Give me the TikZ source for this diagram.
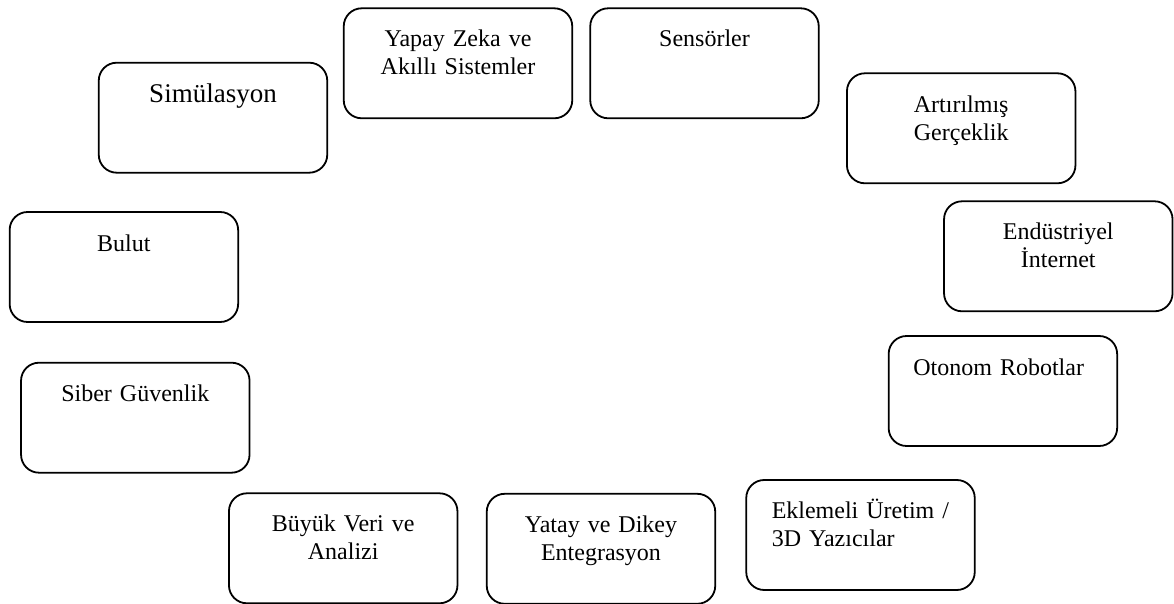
\documentclass[tikz,border=0pt]{standalone}
\usepackage{fontspec}
\setmainfont{Liberation Serif}
\usepackage{tikz}
\usetikzlibrary{positioning}

\begin{document}
\begin{tikzpicture}[x=0.5pt, y=-0.5pt,
    kutu/.style={draw, line width=0.9pt, rounded corners=9pt, minimum width=114.25pt, minimum height=55pt, inner sep=0pt},
    yazi/.style={inner sep=0pt, text width=110pt, align=center, font=\fontsize{12}{14}\selectfont},
    yazisol/.style={yazi, text width=100pt, align=left}]
    \useasboundingbox (0,0) rectangle (1174,604);

    % Boxes - top row
    \node[kutu] (sim) at (213, 117.7) {};
    \node[kutu] (yz)  at (458, 63.3) {};
    \node[kutu] (sen) at (704.5, 63.3) {};
    \node[kutu] (ar)  at (961.2, 128.3) {};

    % Boxes - sides
    \node[kutu] (bul) at (123.9, 267) {};
    \node[kutu] (ei)  at (1058.3, 256.3) {};
    \node[kutu] (sg)  at (135.3, 417.7) {};
    \node[kutu] (orb) at (1002.9, 391) {};

    % Boxes - bottom row
    \node[kutu] (bv) at (343.2, 548.3) {};
    \node[kutu] (yd) at (601, 548.8) {};
    \node[kutu] (eu) at (860.5, 535) {};

    % Labels
    \node[yazi, font=\fontsize{13.5}{16}\selectfont, below=20.6pt of sim.north, anchor=base] (simt) {Simülasyon};
    \node[yazi, below=19.4pt of yz.north, anchor=base] (yzt) {Yapay Zeka ve\\Akıllı Sistemler};
    \node[yazi, below=19.6pt of sen.north, anchor=base] (sent) {Sensörler};
    \node[yazi, below=19.9pt of ar.north, anchor=base] (art) {Artırılmış\\Gerçeklik};
    \node[yazi, below=20pt of bul.north, anchor=base] (bult) {Bulut};
    \node[yazi, below=19.7pt of ei.north, anchor=base] (eit) {Endüstriyel\\İnternet};
    \node[yazi, below=19.8pt of sg.north, anchor=base] (sgt) {Siber Güvenlik};
    \node[yazisol, below right=20pt and 12.6pt of orb.north west, anchor=base west] (orbt) {Otonom Robotlar};
    \node[yazi, below=19.5pt of bv.north, anchor=base] (bvt) {Büyük Veri ve\\Analizi};
    \node[yazi, below=19.6pt of yd.north, anchor=base] (ydt) {Yatay ve Dikey\\Entegrasyon};
    \node[yazisol, below right=19.7pt and 13pt of eu.north west, anchor=base west] (eut) {Eklemeli Üretim /\\3D Yazıcılar};
\end{tikzpicture}
\end{document}
